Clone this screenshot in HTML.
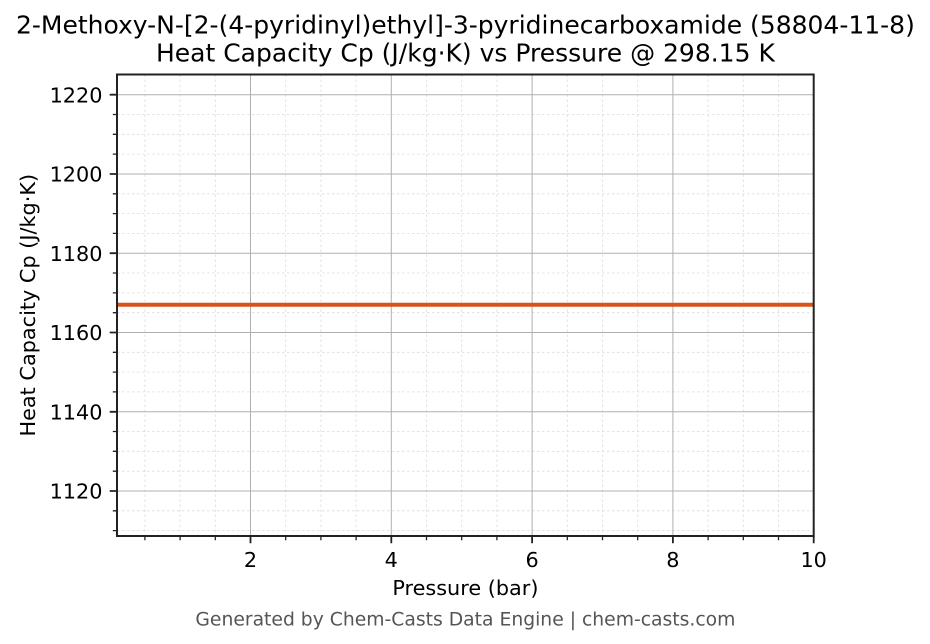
<!DOCTYPE html>
<html><head><meta charset="utf-8"><style>
html,body{margin:0;padding:0;background:#fff;}
svg{display:block;}
text{font-family:"DejaVu Sans","Liberation Sans",sans-serif;}
</style></head><body>
<svg width="930" height="644" viewBox="0 0 930 644" xmlns="http://www.w3.org/2000/svg">
<rect width="930" height="644" fill="#fff"/>
<!-- minor grid -->
<g stroke="#dcdcdc" stroke-width="0.8" stroke-dasharray="2.5,2.5" fill="none">
<path d="M144.9 74.5V536M180.1 74.5V536M215.3 74.5V536M285.7 74.5V536M320.9 74.5V536M356.1 74.5V536M426.5 74.5V536M461.7 74.5V536M496.9 74.5V536M567.3 74.5V536M602.5 74.5V536M637.7 74.5V536M708.1 74.5V536M743.3 74.5V536M778.5 74.5V536"/>
<path d="M117 114.5H813.7M117 134.3H813.7M117 154.1H813.7M117 193.8H813.7M117 213.6H813.7M117 233.4H813.7M117 273H813.7M117 292.9H813.7M117 312.7H813.7M117 352.3H813.7M117 372.1H813.7M117 391.9H813.7M117 431.5H813.7M117 451.3H813.7M117 471.2H813.7M117 510.8H813.7M117 530.6H813.7"/>
</g>
<!-- major grid -->
<g stroke="#b0b0b0" stroke-width="1" fill="none">
<path d="M250.5 74.5V536M391.3 74.5V536M532.1 74.5V536M672.9 74.5V536"/>
<path d="M117 94.7H813.7M117 174H813.7M117 253.2H813.7M117 332.5H813.7M117 411.8H813.7M117 491H813.7"/>
</g>
<!-- data line -->
<line x1="117" y1="304.7" x2="813.7" y2="304.7" stroke="#d95319" stroke-width="4"/>
<!-- spines -->
<rect x="117" y="74.5" width="696.7" height="461.5" fill="none" stroke="#222" stroke-width="2"/>
<!-- major ticks -->
<g stroke="#222" stroke-width="1.8">
<path d="M250.5 536v7.3M391.3 536v7.3M532.1 536v7.3M672.9 536v7.3M813.7 536v7.3"/>
<path d="M117 94.7h-7.3M117 174h-7.3M117 253.2h-7.3M117 332.5h-7.3M117 411.8h-7.3M117 491h-7.3"/>
</g>
<!-- minor ticks -->
<g stroke="#222" stroke-width="1.3">
<path d="M144.9 536v4.2M180.1 536v4.2M215.3 536v4.2M285.7 536v4.2M320.9 536v4.2M356.1 536v4.2M426.5 536v4.2M461.7 536v4.2M496.9 536v4.2M567.3 536v4.2M602.5 536v4.2M637.7 536v4.2M708.1 536v4.2M743.3 536v4.2M778.5 536v4.2"/>
<path d="M117 114.5h-4.2M117 134.3h-4.2M117 154.1h-4.2M117 193.8h-4.2M117 213.6h-4.2M117 233.4h-4.2M117 273h-4.2M117 292.9h-4.2M117 312.7h-4.2M117 352.3h-4.2M117 372.1h-4.2M117 391.9h-4.2M117 431.5h-4.2M117 451.3h-4.2M117 471.2h-4.2M117 510.8h-4.2M117 530.6h-4.2"/>
</g>
<!-- tick labels -->
<g font-size="20.8" fill="#000" text-anchor="middle">
<text x="250.5" y="567">2</text>
<text x="391.3" y="567">4</text>
<text x="532.1" y="567">6</text>
<text x="672.9" y="567">8</text>
<text x="813.7" y="567">10</text>
</g>
<g font-size="20.8" fill="#000" text-anchor="end">
<text x="102.5" y="102.3">1220</text>
<text x="102.5" y="181.6">1200</text>
<text x="102.5" y="260.8">1180</text>
<text x="102.5" y="340.1">1160</text>
<text x="102.5" y="419.4">1140</text>
<text x="102.5" y="498.6">1120</text>
</g>
<!-- titles and labels -->
<g font-size="25" fill="#000" text-anchor="middle">
<text x="465.4" y="33.3">2-Methoxy-N-[2-(4-pyridinyl)ethyl]-3-pyridinecarboxamide (58804-11-8)</text>
<text x="465.4" y="61.7">Heat Capacity Cp (J/kg·K) vs Pressure @ 298.15 K</text>
</g>
<text x="465.4" y="595" font-size="20.8" text-anchor="middle" fill="#000">Pressure (bar)</text>
<text transform="translate(35,305.2) rotate(-90)" x="0" y="0" font-size="20.8" text-anchor="middle" fill="#000">Heat Capacity Cp (J/kg·K)</text>
<text x="465.4" y="625.3" font-size="18.75" text-anchor="middle" fill="#555">Generated by Chem-Casts Data Engine | chem-casts.com</text>
</svg>
</body></html>
